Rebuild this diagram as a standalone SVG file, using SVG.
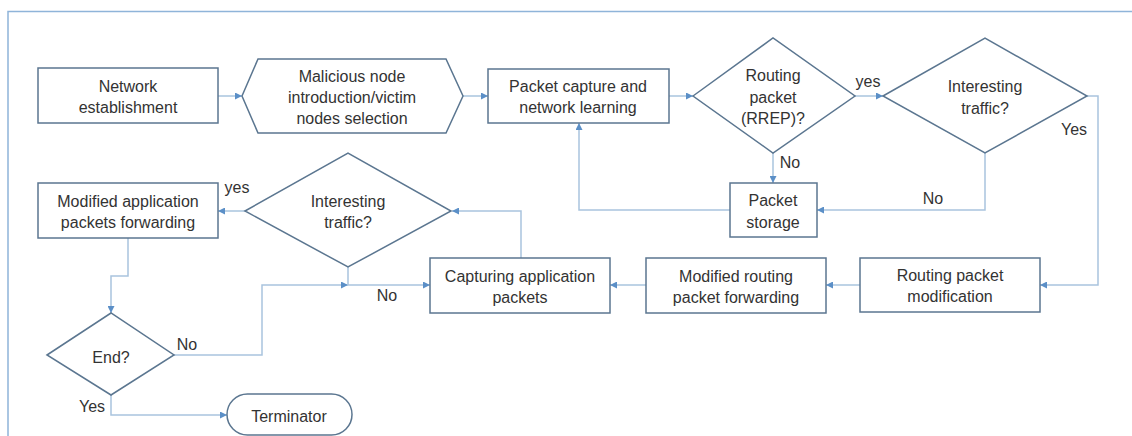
<svg xmlns="http://www.w3.org/2000/svg" width="1132" height="436" viewBox="0 0 1132 436">
<style>
.n{fill:#fff;stroke:#5b7690;stroke-width:1.5}
.t{font-family:"Liberation Sans",Arial,sans-serif;font-size:16px;fill:#333;text-anchor:middle;dominant-baseline:central}
.c{fill:none;stroke:#a9c4de;stroke-width:1.5}
.frame{fill:none;stroke:#8fb4d9;stroke-width:1.5}
</style>
<defs>
<marker id="a" viewBox="0 0 10 10" refX="10" refY="5" markerWidth="7" markerHeight="7" markerUnits="userSpaceOnUse" orient="auto">
<path d="M0,0 L10,5 L0,10 z" fill="#5b8fc7"/>
</marker>
</defs>
<rect width="1132" height="436" fill="#fff"/>
<path class="frame" d="M8,436 V11.5 H1132"/>
<g id="connectors">
<path class="c" d="M218,96 H242" marker-end="url(#a)"/>
<path class="c" d="M463,96 H488" marker-end="url(#a)"/>
<path class="c" d="M669,96 H693" marker-end="url(#a)"/>
<path class="c" d="M855,96 H883" marker-end="url(#a)"/>
<path class="c" d="M773,153 V183" marker-end="url(#a)"/>
<path class="c" d="M730,210 H579 V123" marker-end="url(#a)"/>
<path class="c" d="M1087,96 H1098 V285 H1040" marker-end="url(#a)"/>
<path class="c" d="M985,153 V210 H817" marker-end="url(#a)"/>
<path class="c" d="M860,285 H826" marker-end="url(#a)"/>
<path class="c" d="M646,285 H610" marker-end="url(#a)"/>
<path class="c" d="M521,258 V211 H452" marker-end="url(#a)"/>
<path class="c" d="M245,211 H218" marker-end="url(#a)"/>
<path class="c" d="M128,238 V276 H111 V313" marker-end="url(#a)"/>
<path class="c" d="M174,355 H262 V285 H348" marker-end="url(#a)"/>
<path class="c" d="M348,267 V285 H430" marker-end="url(#a)"/>
<path class="c" d="M111,395 V415 H227" marker-end="url(#a)"/>
<text class="t" x="868" y="81">yes</text>
<text class="t" x="1074" y="129">Yes</text>
<text class="t" x="790" y="162">No</text>
<text class="t" x="933" y="198">No</text>
<text class="t" x="237" y="187">yes</text>
<text class="t" x="387" y="295">No</text>
<text class="t" x="187" y="344">No</text>
<text class="t" x="92" y="406">Yes</text>
</g>
<g id="network-establishment">
<rect class="n" x="38" y="68" width="180" height="55"/>
<text class="t" x="128" y="86">Network</text>
<text class="t" x="128" y="107">establishment</text>
</g>
<g id="malicious-node">
<polygon class="n" points="242,96 258,59 446,59 463,96 446,133 258,133"/>
<text class="t" x="352" y="76">Malicious node</text>
<text class="t" x="352" y="97">introduction/victim</text>
<text class="t" x="352" y="118">nodes selection</text>
</g>
<g id="packet-capture">
<rect class="n" x="488" y="69" width="181" height="54"/>
<text class="t" x="578" y="86">Packet capture and</text>
<text class="t" x="578" y="107">network learning</text>
</g>
<g id="routing-packet">
<polygon class="n" points="693,96 773,38 855,96 773,153"/>
<text class="t" x="773" y="75">Routing</text>
<text class="t" x="773" y="97">packet</text>
<text class="t" x="773" y="118">(RREP)?</text>
</g>
<g id="interesting-traffic-1">
<polygon class="n" points="883,96 985,38 1087,96 985,153"/>
<text class="t" x="985" y="86">Interesting</text>
<text class="t" x="985" y="108">traffic?</text>
</g>
<g id="packet-storage">
<rect class="n" x="730" y="183" width="87" height="54"/>
<text class="t" x="773" y="200">Packet</text>
<text class="t" x="773" y="222">storage</text>
</g>
<g id="routing-packet-modification">
<rect class="n" x="860" y="258" width="180" height="54"/>
<text class="t" x="950" y="275">Routing packet</text>
<text class="t" x="950" y="296">modification</text>
</g>
<g id="modified-routing-forwarding">
<rect class="n" x="646" y="258" width="180" height="55"/>
<text class="t" x="736" y="276">Modified routing</text>
<text class="t" x="736" y="297">packet forwarding</text>
</g>
<g id="capturing-application">
<rect class="n" x="430" y="258" width="180" height="55"/>
<text class="t" x="520" y="276">Capturing application</text>
<text class="t" x="520" y="297">packets</text>
</g>
<g id="interesting-traffic-2">
<polygon class="n" points="245,211 348,153 451,211 348,267"/>
<text class="t" x="348" y="201">Interesting</text>
<text class="t" x="348" y="222">traffic?</text>
</g>
<g id="modified-application-forwarding">
<rect class="n" x="38" y="183" width="180" height="55"/>
<text class="t" x="128" y="201">Modified application</text>
<text class="t" x="128" y="222">packets forwarding</text>
</g>
<g id="end">
<polygon class="n" points="47,355 111,313 174,355 111,395"/>
<text class="t" x="111" y="357">End?</text>
</g>
<g id="terminator">
<rect class="n" x="227" y="394" width="125" height="41" rx="20.5"/>
<text class="t" x="289" y="416">Terminator</text>
</g>
</svg>
